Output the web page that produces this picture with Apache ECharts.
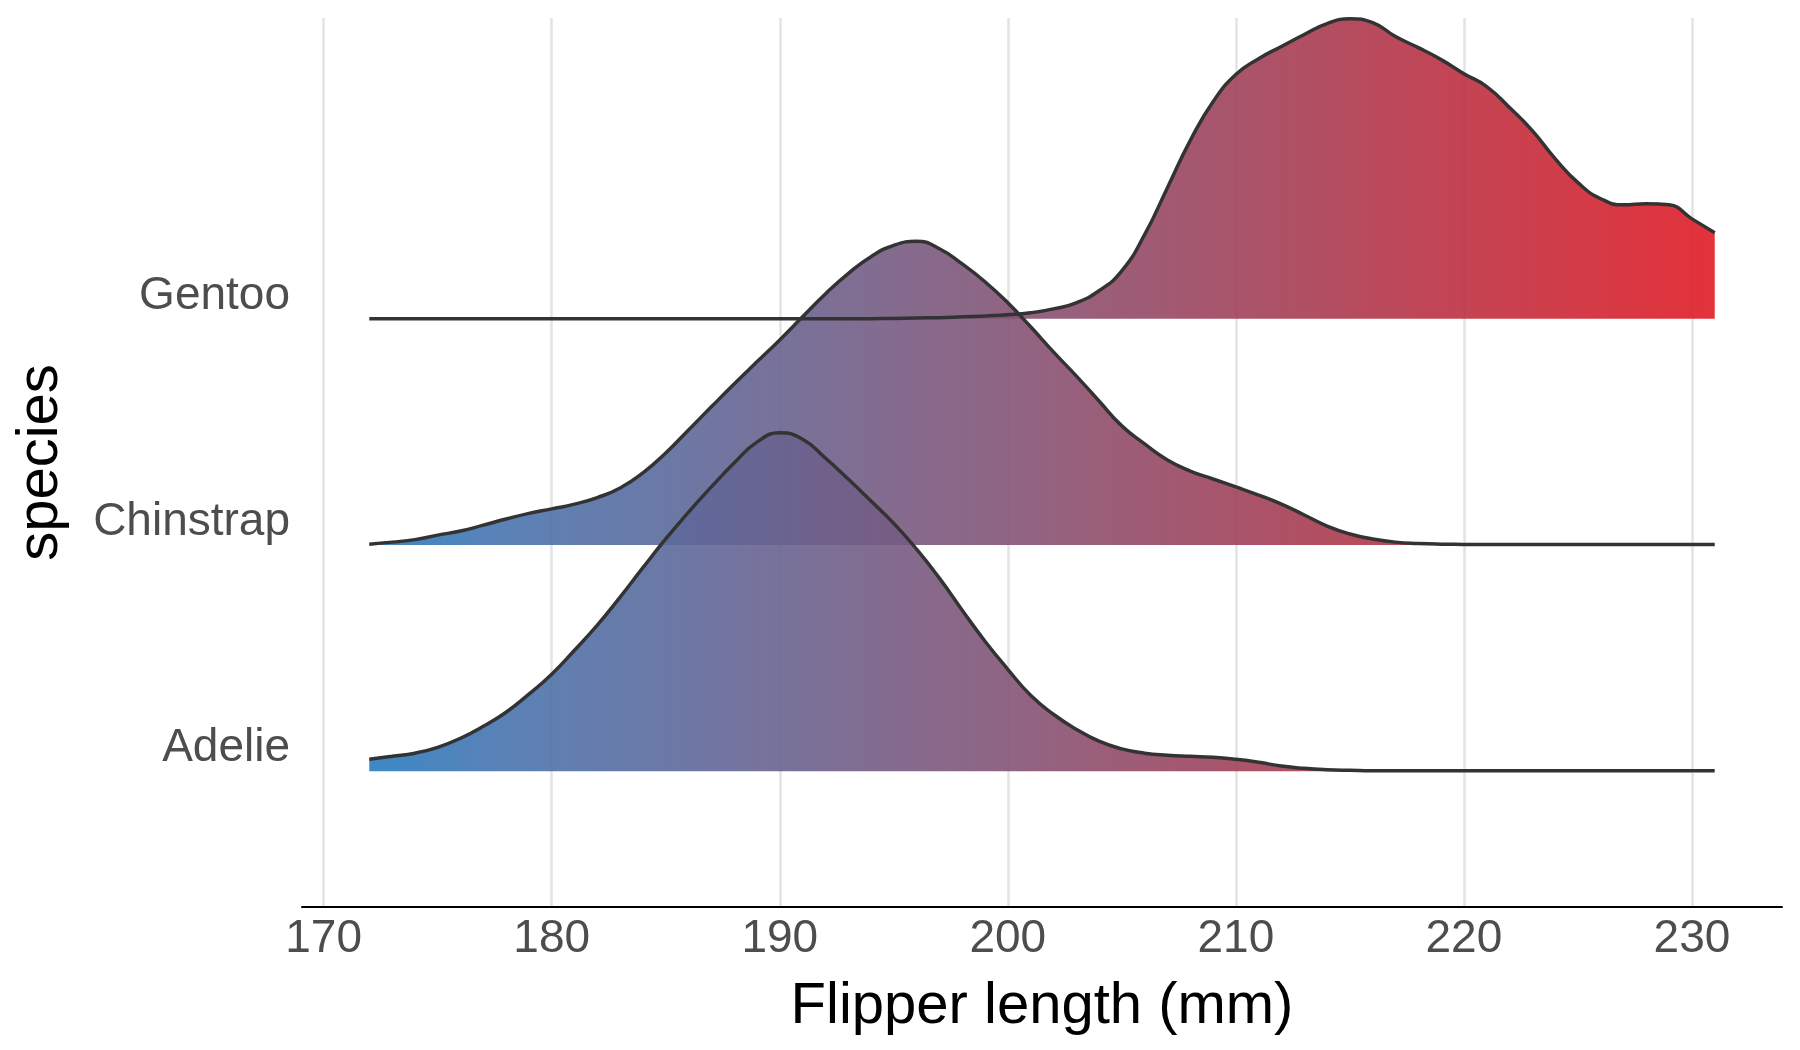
<!DOCTYPE html>
<html>
<head>
<meta charset="utf-8">
<title>Flipper length ridgeline</title>
<script src="https://cdn.jsdelivr.net/npm/echarts@6/dist/echarts.min.js"></script>
<style>
  html, body { margin: 0; padding: 0; background: #ffffff; }
  #main { width: 1800px; height: 1050px; }
</style>
</head>
<body>
<div id="main"></div>
<script>
// 物种（自下而上）
const species = ['Adelie', 'Chinstrap', 'Gentoo'];
const xTicks = [170, 180, 190, 200, 210, 220, 230];

// 采样点：鳍长 (mm)
const flipperLength = [
  172, 173, 174, 175, 176, 177, 178, 179, 180, 181,
  182, 183, 184, 185, 186, 187, 188, 189, 190, 191,
  192, 193, 194, 195, 196, 197, 198, 199, 200, 201,
  202, 203, 204, 205, 206, 207, 208, 209, 210, 211,
  212, 213, 214, 215, 216, 217, 218, 219, 220, 221,
  222, 223, 224, 225, 226, 227, 228, 229, 230, 231
];

// 山脊高度（占行距的百分比）
const adelieHeight = [
  5.3, 6.6, 8.0, 10.6, 14.6, 19.9, 26.1, 34.1, 42.9, 53.5,
  64.6, 77.0, 90.0, 102.7, 114.6, 125.7, 136.3, 145.5, 149.6, 146.8,
  138.5, 129.2, 119.5, 109.6, 98.2, 85.4, 71.2, 57.5, 45.1, 33.6,
  25.2, 18.6, 13.3, 9.9, 8.0, 7.1, 6.6, 6.2, 5.3, 4.0,
  2.3, 1.3, 0.7, 0.4, 0.2, 0.2, 0.2, 0.2, 0.2, 0.2,
  0.2, 0.2, 0.2, 0.2, 0.2, 0.2, 0.2, 0.2, 0.2, 0.2
];
const chinstrapHeight = [
  0.4, 1.3, 2.4, 4.4, 6.2, 8.8, 11.5, 14.0, 16.0, 18.1,
  21.0, 25.2, 31.9, 40.7, 50.9, 61.1, 71.2, 81.0, 90.7, 100.9,
  111.0, 120.0, 127.5, 132.5, 134.3, 131.0, 124.3, 116.4, 107.1, 96.5,
  85.4, 74.8, 63.7, 52.7, 44.7, 37.6, 32.7, 29.2, 25.7, 22.1,
  18.1, 13.3, 8.4, 4.9, 2.7, 1.3, 0.7, 0.4, 0.3, 0.2,
  0.2, 0.2, 0.2, 0.2, 0.2, 0.2, 0.2, 0.2, 0.2, 0.2
];
const gentooHeight = [
  0, 0, 0, 0, 0, 0, 0, 0, 0, 0,
  0, 0, 0, 0, 0, 0, 0, 0, 0, 0,
  0, 0, 0.1, 0.2, 0.4, 0.5, 0.9, 1.3, 1.8, 2.7,
  4.4, 7.1, 12.4, 21.2, 37.2, 58.0, 78.8, 96.0, 108.0, 115.0,
  120.4, 125.7, 130.5, 132.7, 131.0, 124.8, 119.9, 114.6, 108.4, 102.7,
  93.4, 83.2, 70.8, 60.2, 53.1, 50.4, 50.9, 50.4, 44.2, 38.1
];

const fontFamily = '"Liberation Sans", Arial, Helvetica, sans-serif';

const fillGradient = new echarts.graphic.LinearGradient(0, 0, 1, 0, [
  { offset: 0, color: '#267bc0' },
  { offset: 0.1, color: '#4874ae' },
  { offset: 0.47, color: '#835476' },
  { offset: 0.72, color: '#ac394e' },
  { offset: 1, color: '#e01b24' }
]);

function ridge(name, heights) {
  const base = species.indexOf(name) + 1;
  return {
    name: name,
    type: 'line',
    smooth: 0.5,
    symbol: 'none',
    data: flipperLength.map((x, i) => [x, base + heights[i] / 100]),
    lineStyle: { color: '#333333', width: 3.5 },
    areaStyle: { origin: base, color: fillGradient, opacity: 0.9 },
    emphasis: { disabled: true }
  };
}

const myChart = echarts.init(document.getElementById('main'));

const option = {
  animation: false,
  backgroundColor: '#ffffff',
  grid: { left: 302, right: 18, top: 18, bottom: 143, containLabel: false },
  xAxis: {
    type: 'value',
    min: 169.05,
    max: 233.95,
    name: 'Flipper length (mm)',
    nameLocation: 'middle',
    nameGap: 100,
    nameTextStyle: { fontSize: 58, color: '#000000', fontFamily: fontFamily, verticalAlign: 'middle' },
    axisLine: { show: true, lineStyle: { color: '#000000', width: 2 } },
    axisTick: { show: false, customValues: xTicks },
    axisLabel: { customValues: xTicks, fontSize: 46, color: '#4d4d4d', fontFamily: fontFamily, margin: 9 },
    splitLine: { show: true, lineStyle: { color: '#e3e3e3', width: 2.5 } }
  },
  yAxis: {
    type: 'value',
    min: 0.4,
    max: 4.33,
    name: 'species',
    nameLocation: 'middle',
    nameRotate: 90,
    nameGap: 261,
    nameTextStyle: { fontSize: 58, color: '#000000', fontFamily: fontFamily, verticalAlign: 'middle', align: 'center' },
    axisLine: { show: false },
    axisTick: { show: false, customValues: [1, 2, 3] },
    splitLine: { show: false },
    axisLabel: {
      customValues: [1, 2, 3],
      formatter: (v) => species[v - 1] || '',
      fontSize: 46,
      color: '#4d4d4d',
      fontFamily: fontFamily,
      margin: 12,
      verticalAlign: 'bottom'
    }
  },
  series: [
    ridge('Gentoo', gentooHeight),
    ridge('Chinstrap', chinstrapHeight),
    ridge('Adelie', adelieHeight)
  ]
};

myChart.setOption(option);
</script>
</body>
</html>
